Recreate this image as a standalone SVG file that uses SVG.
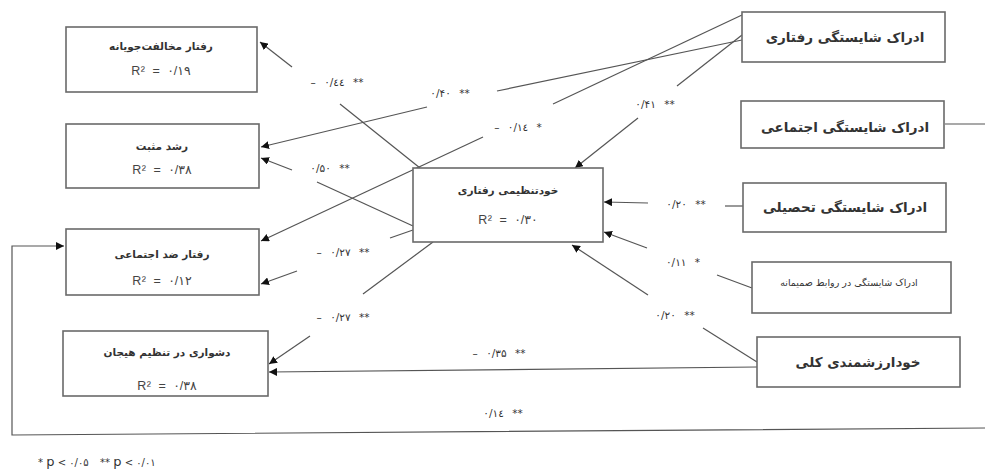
<svg xmlns="http://www.w3.org/2000/svg" width="985" height="475" viewBox="0 0 985 475">
<style>
.box{fill:#fff;stroke:#6a6a6a;stroke-width:1.6}
.t{font-family:"DejaVu Sans",sans-serif;fill:#333;text-anchor:middle}
.tl{font-size:10.5px;font-weight:bold}
.tr{font-size:13.5px;font-weight:bold}
.r2{font-family:"Liberation Sans","DejaVu Sans",sans-serif;font-size:12.5px;fill:#444;text-anchor:middle;word-spacing:3px;letter-spacing:0.5px}
.lb{font-family:"DejaVu Sans",sans-serif;font-size:10.5px;fill:#333;text-anchor:middle;word-spacing:5px;letter-spacing:0.6px}
.lg{font-family:"DejaVu Sans",sans-serif;font-size:10px;fill:#333}
.c{fill:none;stroke:#555;stroke-width:1.2}
</style>
<defs>
<marker id="ah" viewBox="0 0 10 10" refX="10" refY="5" markerWidth="8" markerHeight="8" markerUnits="userSpaceOnUse" orient="auto">
<path d="M0,0 L10,5 L0,10 z" fill="#111"/>
</marker>
</defs>
<rect width="985" height="475" fill="#fff"/>

<g id="connectors">
<line class="c" x1="420" y1="168" x2="340" y2="104"/>
<line class="c" x1="292" y1="67" x2="260" y2="42" marker-end="url(#ah)"/>
<line class="c" x1="742" y1="40" x2="497" y2="91"/>
<line class="c" x1="427" y1="107" x2="261" y2="147" marker-end="url(#ah)"/>
<line class="c" x1="742" y1="15" x2="553" y2="104"/>
<line class="c" x1="483" y1="137" x2="261" y2="241" marker-end="url(#ah)"/>
<line class="c" x1="742" y1="35" x2="677" y2="86"/>
<line class="c" x1="638" y1="118" x2="575" y2="168" marker-end="url(#ah)"/>
<line class="c" x1="413" y1="226" x2="317" y2="182"/>
<line class="c" x1="292" y1="170" x2="261" y2="158" marker-end="url(#ah)"/>
<line class="c" x1="413" y1="230" x2="390" y2="238"/>
<line class="c" x1="297" y1="271" x2="261" y2="284" marker-end="url(#ah)"/>
<line class="c" x1="433" y1="242" x2="363" y2="294"/>
<line class="c" x1="310" y1="336" x2="269" y2="364" marker-end="url(#ah)"/>
<line class="c" x1="743" y1="206" x2="725" y2="206"/>
<line class="c" x1="648" y1="203" x2="604" y2="202" marker-end="url(#ah)"/>
<line class="c" x1="752" y1="288" x2="717" y2="275"/>
<line class="c" x1="647" y1="248" x2="604" y2="232" marker-end="url(#ah)"/>
<line class="c" x1="757" y1="362" x2="703" y2="328"/>
<line class="c" x1="648" y1="295" x2="572" y2="245" marker-end="url(#ah)"/>
<line class="c" x1="757" y1="367" x2="269" y2="372" marker-end="url(#ah)"/>
<polyline class="c" points="985,428 12,435 12,246 64,246" marker-end="url(#ah)"/>
<line class="c" x1="945" y1="124" x2="985" y2="124"/>
</g>

<g id="labels">
<text class="lb" x="337" y="86">– ۰/٤٤ **</text>
<text class="lb" x="450" y="97">۰/۴۰ **</text>
<text class="lb" x="518" y="131">– ۰/۱٤ *</text>
<text class="lb" x="655" y="108">۰/۴۱ **</text>
<text class="lb" x="330" y="172">۰/۵۰ **</text>
<text class="lb" x="343" y="256">– ۰/۲۷ **</text>
<text class="lb" x="343" y="321">– ۰/۲۷ **</text>
<text class="lb" x="499" y="357">– ۰/۳۵ **</text>
<text class="lb" x="686" y="208">۰/۲۰ **</text>
<text class="lb" x="683" y="266">۰/۱۱ *</text>
<text class="lb" x="675" y="319">۰/۲۰ **</text>
<text class="lb" x="503" y="417">۰/۱٤ **</text>
<text class="lg" x="38" y="466">* <tspan font-size="13">p</tspan> &lt; ۰/۰۵</text>
<text class="lg" x="100" y="466">** <tspan font-size="13">p</tspan> &lt; ۰/۰۱</text>
</g>

<g id="n-oppositional">
<rect class="box" x="66" y="27" width="191" height="65"/>
<text class="t tl" x="161" y="50">رفتار مخالفت‌جویانه</text>
<text class="r2" x="161" y="75">R² = ۰/۱۹</text>
</g>
<g id="n-positive">
<rect class="box" x="66" y="124" width="193" height="64"/>
<text class="t tl" x="162" y="150">رشد مثبت</text>
<text class="r2" x="162" y="174">R² = ۰/۳۸</text>
</g>
<g id="n-antisocial">
<rect class="box" x="66" y="229" width="193" height="66"/>
<text class="t tl" x="162" y="258">رفتار ضد اجتماعی</text>
<text class="r2" x="162" y="285">R² = ۰/۱۲</text>
</g>
<g id="n-emotion">
<rect class="box" x="63" y="331" width="205" height="65"/>
<text class="t tl" x="167" y="356">دشواری در تنظیم هیجان</text>
<text class="r2" x="167" y="390">R² = ۰/۳۸</text>
</g>
<g id="n-selfreg">
<rect class="box" x="413" y="168" width="190" height="74"/>
<text class="t tl" x="508" y="194">خودتنظیمی رفتاری</text>
<text class="r2" x="508" y="224">R² = ۰/۳۰</text>
</g>
<g id="n-behavioral">
<rect class="box" x="742" y="12" width="203" height="50"/>
<text class="t tr" x="845" y="42">ادراک شایستگی رفتاری</text>
</g>
<g id="n-social">
<rect class="box" x="741" y="101" width="203" height="47"/>
<text class="t tr" x="845" y="132">ادراک شایستگی اجتماعی</text>
</g>
<g id="n-academic">
<rect class="box" x="743" y="183" width="203" height="49"/>
<text class="t tr" x="845" y="212">ادراک شایستگی تحصیلی</text>
</g>
<g id="n-romantic">
<rect class="box" x="752" y="262" width="199" height="51"/>
<text class="t" style="font-size:9.5px" x="849" y="286">ادراک شایستگی در روابط صمیمانه</text>
</g>
<g id="n-selfworth">
<rect class="box" x="757" y="337" width="203" height="50"/>
<text class="t tr" x="858" y="367">خودارزشمندی کلی</text>
</g>
</svg>
